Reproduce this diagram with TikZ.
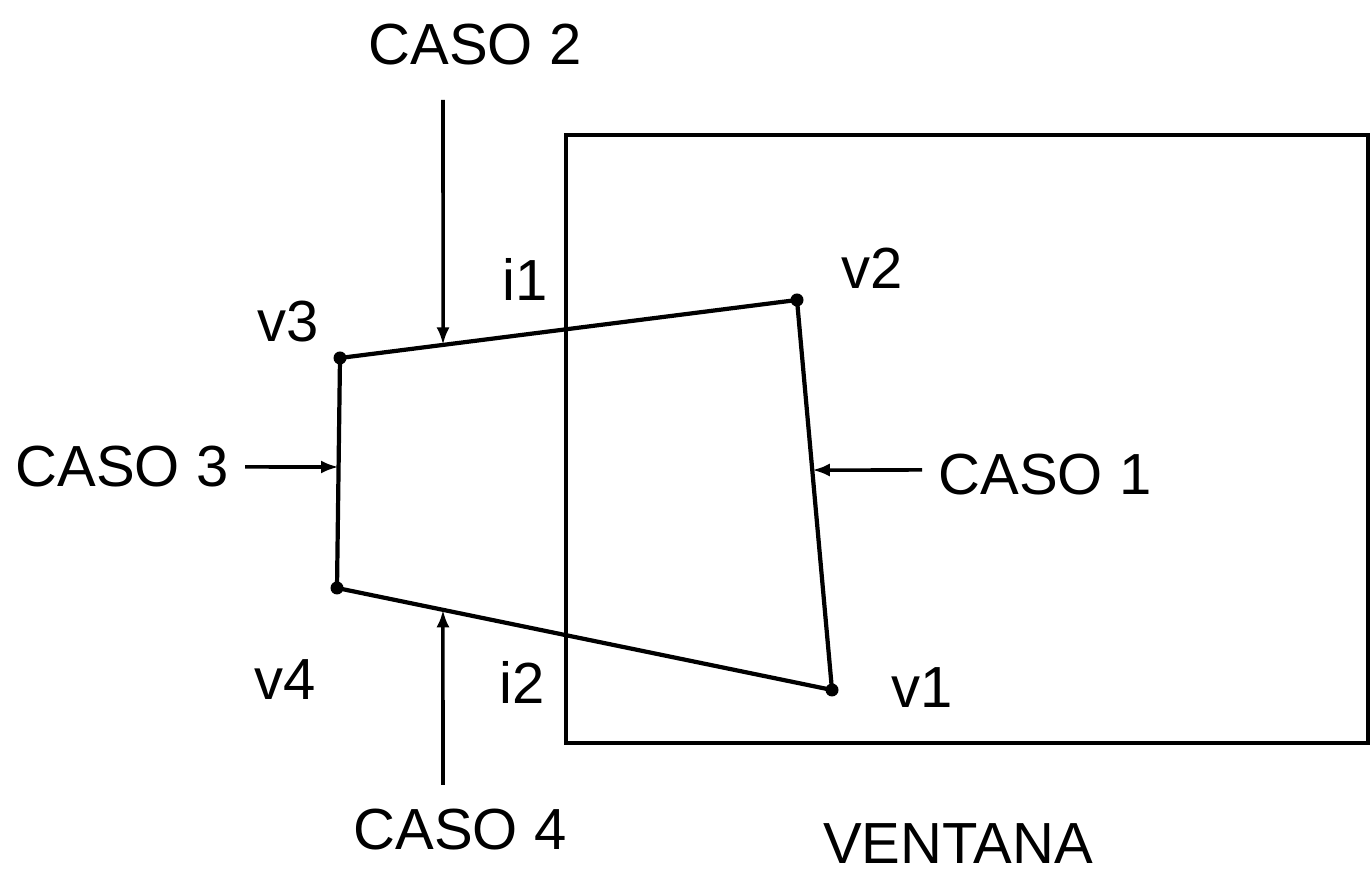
\documentclass[tikz,border=0pt]{standalone}
\usepackage{fontspec}
\setmainfont{Liberation Sans}
\usetikzlibrary{
    positioning,
    calc,
    arrows.meta
}
\tikzset{
    >=Stealth,
    vertice/.style={
        circle,
        fill=black,
        inner sep=0pt,
        minimum size=2.6mm
    },
    etiqueta/.style={
        font=\fontsize{33}{38}\selectfont,
        inner sep=0pt
    },
    caso/.style={
        line width=2pt,
        -{Latex[length=3.5mm,width=2.6mm]}
    },
    lado/.style={
        line width=2.4pt
    }
}

\begin{document}
\begin{tikzpicture}

    \useasboundingbox (0,0) rectangle (27.44,17.5);

    % Ventana
    \coordinate (wsw) at (11.32,2.64);
    \coordinate (wne) at (27.36,14.80);
    \draw[lado] (wsw) rectangle (wne);
    \node[etiqueta] (ventana) at (19.16,0.62) {VENTANA};

    % Vertices
    \coordinate (pv1) at (16.64,3.70);
    \coordinate (pv2) at (15.94,11.50);
    \coordinate (pv3) at (6.80,10.34);
    \coordinate (pv4) at (6.74,5.74);
    \draw[lado] (pv1) -- (pv2) -- (pv3) -- (pv4) -- cycle;
    \node[vertice] (v1) at (pv1) {};
    \node[vertice] (v2) at (pv2) {};
    \node[vertice] (v3) at (pv3) {};
    \node[vertice] (v4) at (pv4) {};

    % Etiquetas
    \node[etiqueta] (lv1) at (18.44,3.74)  {v1};
    \node[etiqueta] (lv2) at (17.44,12.14) {v2};
    \node[etiqueta] (lv3) at (5.76,11.06)  {v3};
    \node[etiqueta] (lv4) at (5.70,3.90)   {v4};
    \node[etiqueta] (li1) at (10.50,11.90) {i1};
    \node[etiqueta] (li2) at (10.44,3.86)  {i2};

    % Casos
    \node[etiqueta] (caso1) at (20.90,8.00)  {CASO 1};
    \node[etiqueta] (caso2) at (9.50,16.60)  {CASO 2};
    \node[etiqueta] (caso3) at (2.44,8.16)   {CASO 3};
    \node[etiqueta] (caso4) at (9.20,0.90)   {CASO 4};

    \coordinate (c1ini) at (18.44,8.10);
    \coordinate (c2ini) at (8.86,15.50);
    \coordinate (c3ini) at (4.90,8.16);
    \coordinate (c4ini) at (8.86,1.80);

    \coordinate (c1fin) at ($(pv2)!0.436!(pv1)$);
    \coordinate (c2fin) at ($(pv3)!0.2254!(pv2)$);
    \coordinate (c3fin) at ($(pv3)!0.474!(pv4)$);
    \coordinate (c4fin) at ($(pv4)!0.2141!(pv1)$);

    \draw[caso] (c1ini) -- (c1fin);
    \draw[caso] (c2ini) -- (c2fin);
    \draw[caso] (c3ini) -- (c3fin);
    \draw[caso] (c4ini) -- (c4fin);

\end{tikzpicture}
\end{document}
